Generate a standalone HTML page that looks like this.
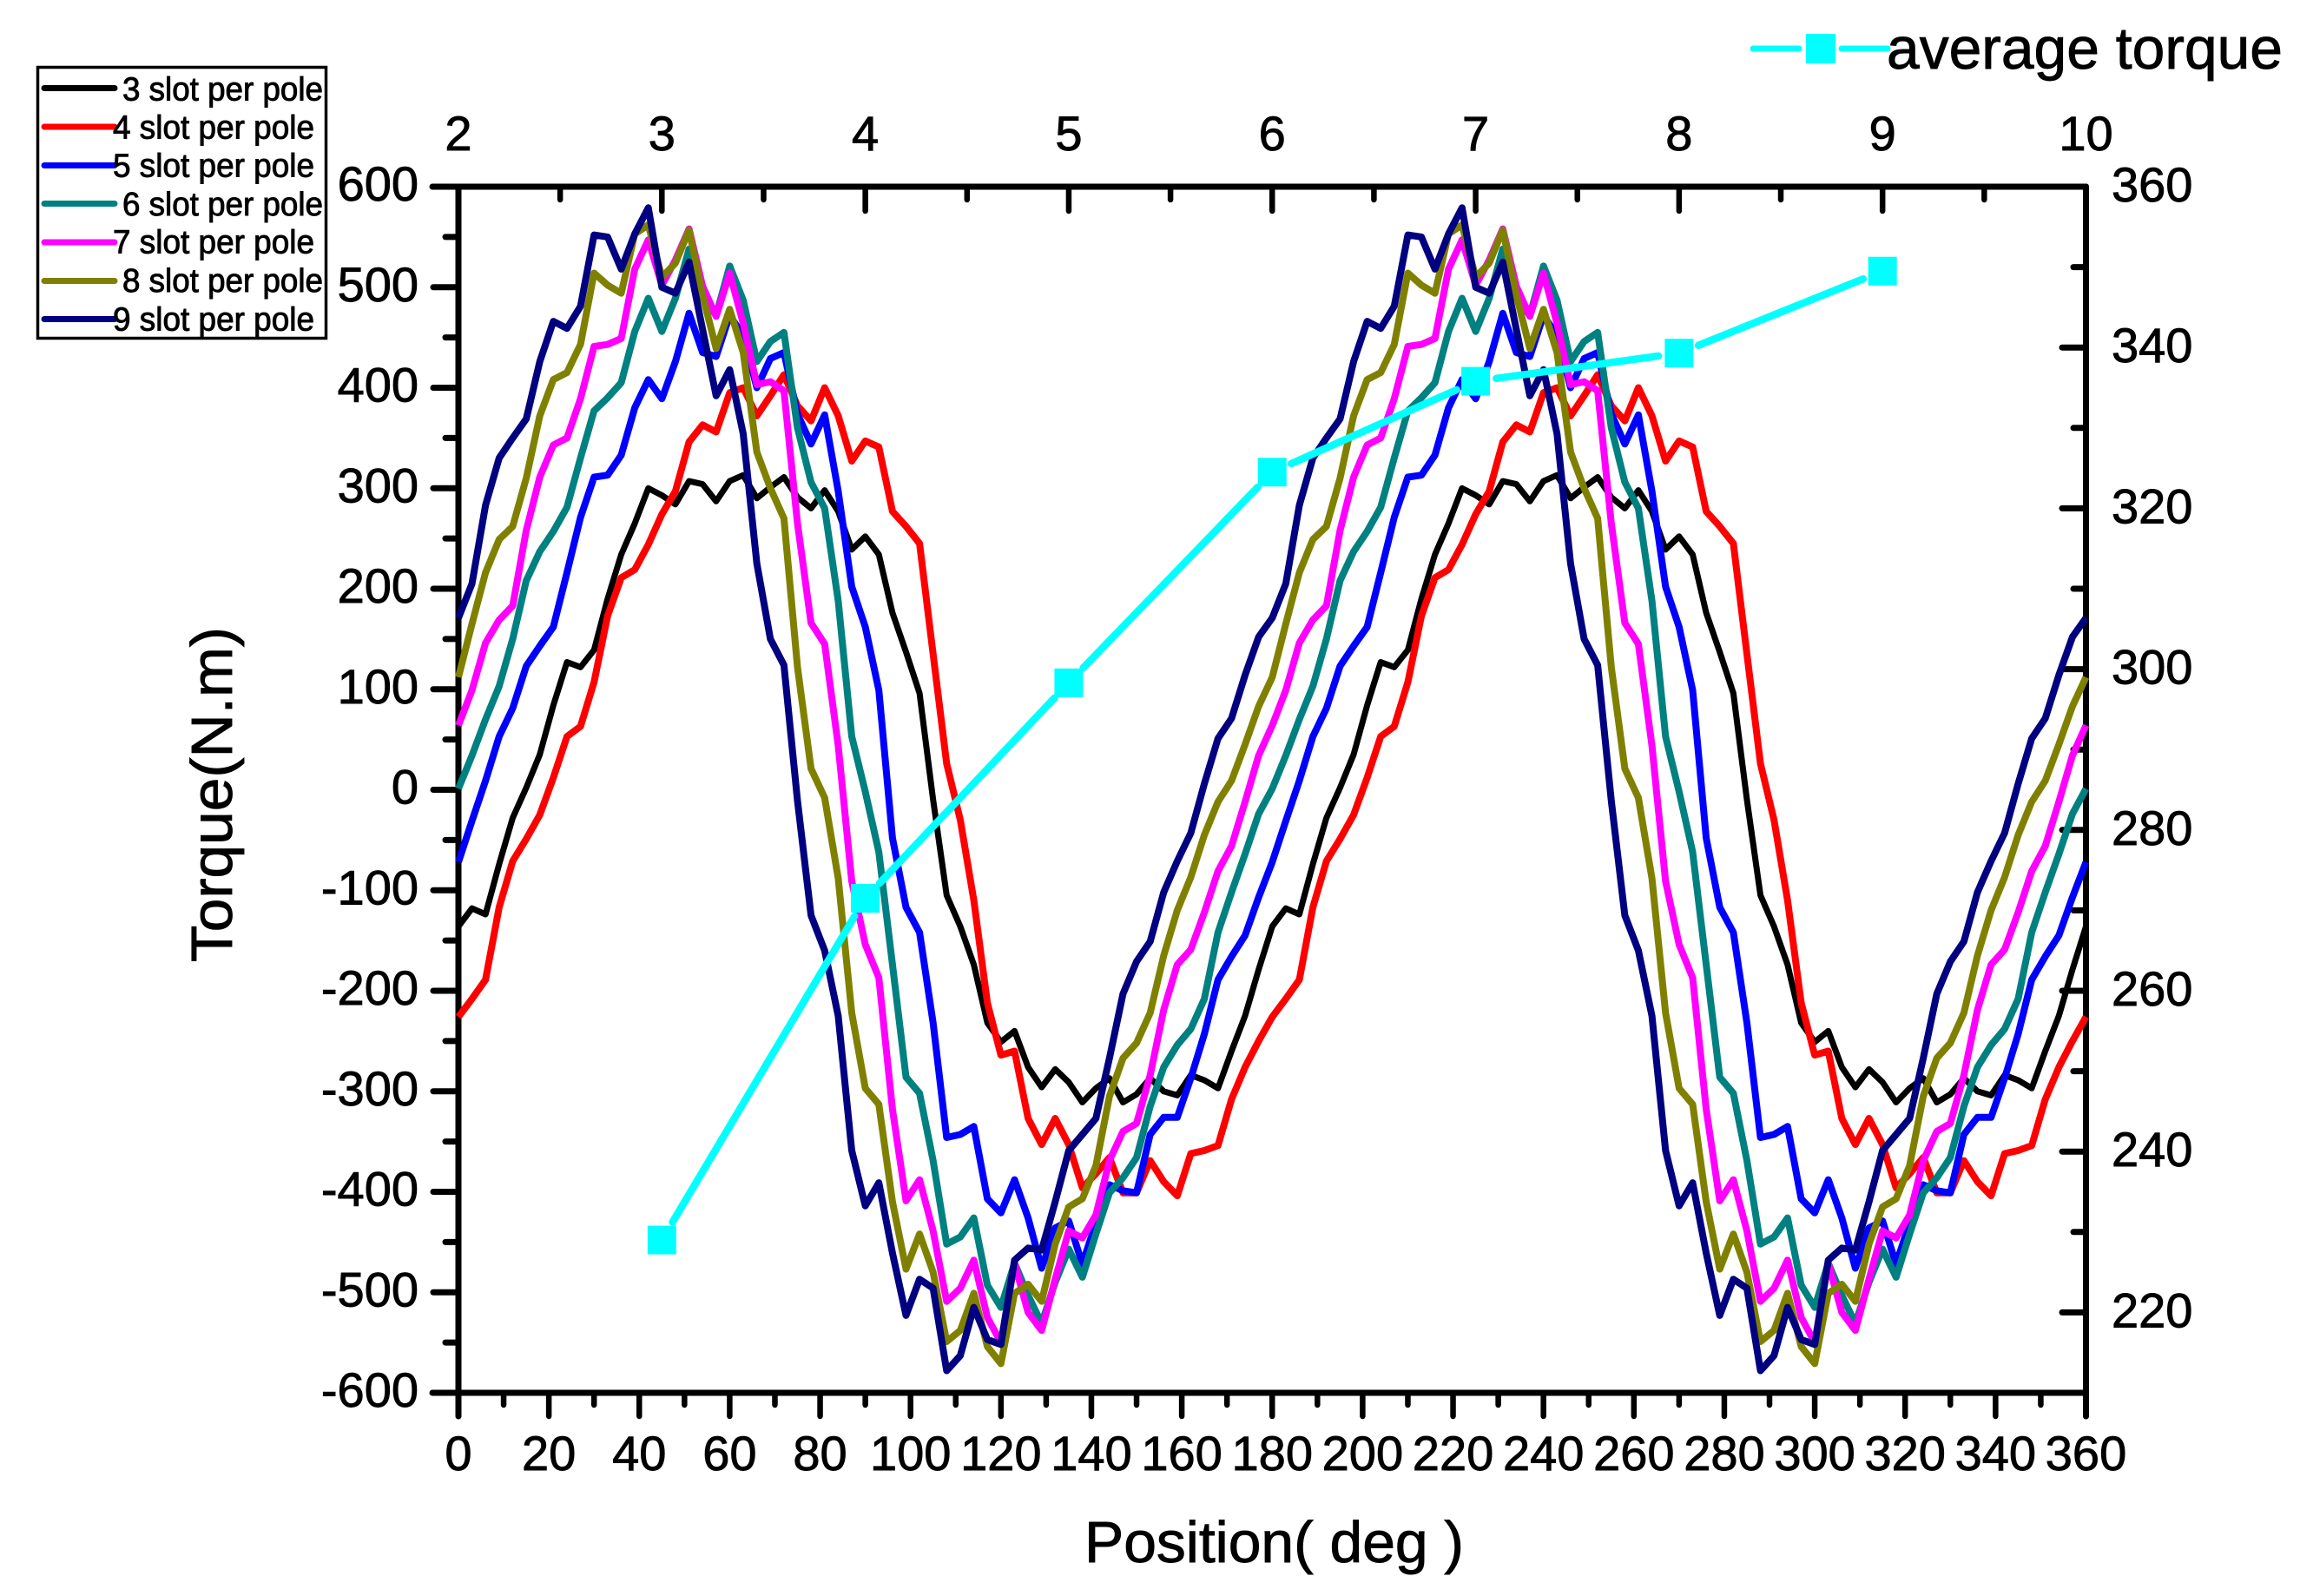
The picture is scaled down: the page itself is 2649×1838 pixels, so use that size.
<!DOCTYPE html>
<html lang="en">
<head>
<meta charset="utf-8">
<title>Torque vs Position</title>
<style>
html,body{margin:0;padding:0;background:#fff;}
svg{display:block;font-family:"Liberation Sans",Arial,sans-serif;}
svg text{stroke:#000;stroke-width:0.9px;}
</style>
</head>
<body>
<svg id="chart" xmlns="http://www.w3.org/2000/svg" width="2649" height="1838" viewBox="0 0 2649 1838">
<rect x="0" y="0" width="2649" height="1838" fill="#fff"/>
<g id="axes"></g>
<g id="series"></g>
<g id="avg"></g>

<g>
<rect x="43.5" y="77.5" width="332" height="312" fill="#fff" stroke="#000" stroke-width="3.5"/>
<line x1="51" x2="132" y1="101.5" y2="101.5" stroke="#000000" stroke-width="7" stroke-linecap="round"/>
<text x="141" y="115.5" font-size="38" textLength="231" lengthAdjust="spacingAndGlyphs">3 slot per pole</text>
<line x1="51" x2="132" y1="146" y2="146" stroke="#ff0000" stroke-width="7" stroke-linecap="round"/>
<text x="130" y="159.5" font-size="38" textLength="232" lengthAdjust="spacingAndGlyphs">4 slot per pole</text>
<line x1="51" x2="132" y1="190.5" y2="190.5" stroke="#0000ff" stroke-width="7" stroke-linecap="round"/>
<text x="130" y="203.5" font-size="38" textLength="232" lengthAdjust="spacingAndGlyphs">5 slot per pole</text>
<line x1="51" x2="132" y1="234.5" y2="234.5" stroke="#008080" stroke-width="7" stroke-linecap="round"/>
<text x="141" y="248" font-size="38" textLength="231" lengthAdjust="spacingAndGlyphs">6 slot per pole</text>
<line x1="51" x2="132" y1="279" y2="279" stroke="#ff00ff" stroke-width="7" stroke-linecap="round"/>
<text x="130" y="291.5" font-size="38" textLength="232" lengthAdjust="spacingAndGlyphs">7 slot per pole</text>
<line x1="51" x2="132" y1="323.5" y2="323.5" stroke="#808000" stroke-width="7" stroke-linecap="round"/>
<text x="141" y="336" font-size="38" textLength="231" lengthAdjust="spacingAndGlyphs">8 slot per pole</text>
<line x1="51" x2="132" y1="367.5" y2="367.5" stroke="#000080" stroke-width="7" stroke-linecap="round"/>
<text x="130" y="380.5" font-size="38" textLength="232" lengthAdjust="spacingAndGlyphs">9 slot per pole</text>
</g>

<g>
<line x1="2019" x2="2072" y1="56" y2="56" stroke="#00ffff" stroke-width="7" stroke-linecap="round"/>
<rect x="2080" y="39" width="34" height="34" fill="#00ffff"/>
<line x1="2121" x2="2174" y1="56" y2="56" stroke="#00ffff" stroke-width="7" stroke-linecap="round"/>
<text x="2173" y="79" font-size="68" textLength="456" lengthAdjust="spacingAndGlyphs">average torque</text>
</g>

<text transform="translate(267,1108) rotate(-90)" font-size="67" textLength="386" lengthAdjust="spacingAndGlyphs">Torque(N.m)</text>
<text x="1249" y="1799" font-size="67" textLength="437" lengthAdjust="spacingAndGlyphs">Position( deg )</text>
</svg>

<script>
const positions = [0,3,6,9,12,15,18,21,24,27,30,33,36,39,42,45,48,51,54,57,60,63,66,69,72,75,78,81,84,87,90,93,96,99,102,105,108,111,114,117,120,123,126,129,132,135,138,141,144,147,150,153,156,159,162,165,168,171,174,177,180,183,186,189,192,195,198,201,204,207,210,213,216,219,222,225,228,231,234,237,240,243,246,249,252,255,258,261,264,267,270,273,276,279,282,285,288,291,294,297,300,303,306,309,312,315,318,321,324,327,330,333,336,339,342,345,348,351,354,357,360];

const slot3 = [-136,-118,-124,-74,-28,2,35,84,127,122,139,190,234,265,300,293,284,307,304,287,307,313,290,301,311,291,280,298,277,239,252,234,176,137,96,-10,-105,-136,-174,-232,-251,-240,-276,-296,-278,-291,-311,-297,-287,-311,-303,-287,-300,-304,-284,-289,-297,-260,-225,-179,
-136,-118,-124,-74,-28,2,35,84,127,122,139,190,234,265,300,293,284,307,304,287,307,313,290,301,311,291,280,298,277,239,252,234,176,137,96,-10,-105,-136,-174,-232,-251,-240,-276,-296,-278,-291,-311,-297,-287,-311,-303,-287,-300,-304,-284,-289,-297,-260,-225,-179,-136];

const slot4 = [-226,-208,-189,-117,-71,-49,-25,12,53,63,107,173,211,219,244,274,297,346,363,356,395,400,372,392,413,382,367,400,372,327,347,341,277,262,245,135,26,-30,-110,-212,-264,-260,-327,-353,-327,-353,-396,-382,-366,-401,-401,-369,-390,-404,-362,-359,-354,-308,-276,-250,
-226,-208,-189,-117,-71,-49,-25,12,53,63,107,173,211,219,244,274,297,346,363,356,395,400,372,392,413,382,367,400,372,327,347,341,277,262,245,135,26,-30,-110,-212,-264,-260,-327,-353,-327,-353,-396,-382,-366,-401,-401,-369,-390,-404,-362,-359,-354,-308,-276,-250,-226];

const slot5 = [-72,-31,9,53,81,123,143,162,216,271,311,313,333,380,408,389,426,474,435,431,472,452,400,429,435,374,344,373,297,202,162,99,-48,-117,-142,-232,-346,-343,-335,-407,-421,-388,-426,-476,-436,-429,-472,-431,-393,-399,-401,-343,-326,-326,-287,-243,-189,-166,-145,-107,
-72,-31,9,53,81,123,143,162,216,271,311,313,333,380,408,389,426,474,435,431,472,452,400,429,435,374,344,373,297,202,162,99,-48,-117,-142,-232,-346,-343,-335,-407,-421,-388,-426,-476,-436,-429,-472,-431,-393,-399,-401,-343,-326,-326,-287,-243,-189,-166,-145,-107,-72];

const slot6 = [1,34,70,103,150,208,237,257,281,330,377,390,405,456,489,456,489,538,489,472,521,487,426,446,455,360,306,280,188,53,-2,-62,-174,-286,-302,-369,-452,-445,-426,-493,-515,-471,-503,-531,-490,-457,-485,-442,-401,-386,-366,-315,-276,-254,-238,-208,-142,-102,-64,-24,
1,34,70,103,150,208,237,257,281,330,377,390,405,456,489,456,489,538,489,472,521,487,426,446,455,360,306,280,188,53,-2,-62,-174,-286,-302,-369,-452,-445,-426,-493,-515,-471,-503,-531,-490,-457,-485,-442,-401,-386,-366,-315,-276,-254,-238,-208,-142,-102,-64,-24,1];

const slot7 = [64,99,146,169,183,258,311,343,350,389,441,443,449,518,547,502,527,558,501,471,514,464,403,406,397,265,166,145,44,-91,-154,-187,-318,-409,-388,-439,-509,-496,-468,-525,-550,-471,-520,-538,-487,-439,-446,-423,-369,-340,-332,-284,-219,-174,-159,-122,-81,-56,-12,34,
64,99,146,169,183,258,311,343,350,389,441,443,449,518,547,502,527,558,501,471,514,464,403,406,397,265,166,145,44,-91,-154,-187,-318,-409,-388,-439,-509,-496,-468,-525,-550,-471,-520,-538,-487,-439,-446,-423,-369,-340,-332,-284,-219,-174,-159,-122,-81,-56,-12,34,64];

const slot8 = [112,165,216,249,262,310,372,408,415,443,514,502,494,553,562,510,524,557,492,439,478,435,336,300,270,122,21,-8,-88,-222,-297,-313,-410,-477,-442,-480,-549,-538,-501,-554,-571,-501,-492,-509,-452,-415,-407,-374,-305,-267,-252,-222,-165,-120,-87,-45,-12,9,45,83,
112,165,216,249,262,310,372,408,415,443,514,502,494,553,562,510,524,557,492,439,478,435,336,300,270,122,21,-8,-88,-222,-297,-313,-410,-477,-442,-480,-549,-538,-501,-554,-571,-501,-492,-509,-452,-415,-407,-374,-305,-267,-252,-222,-165,-120,-87,-45,-12,9,45,83,112];

const slot9 = [171,205,283,330,350,369,426,466,459,481,552,550,518,553,579,500,494,525,458,392,418,354,225,150,124,-11,-125,-160,-225,-359,-414,-391,-461,-523,-487,-496,-578,-563,-515,-547,-552,-468,-456,-458,-410,-359,-343,-327,-267,-203,-171,-151,-102,-71,-43,6,51,71,114,152,
171,205,283,330,350,369,426,466,459,481,552,550,518,553,579,500,494,525,458,392,418,354,225,150,124,-11,-125,-160,-225,-359,-414,-391,-461,-523,-487,-496,-578,-563,-515,-547,-552,-468,-456,-458,-410,-359,-343,-327,-267,-203,-171,-151,-102,-71,-43,6,51,71,114,152,171];

const slotCounts = [2,3,4,5,6,7,8,9,10];
const averageSlots = [3,4,5,6,7,8,9];
const averageTorque = [229,271.5,298.3,324.5,335.8,339.3,349.5];

const xTickLabels = [0,20,40,60,80,100,120,140,160,180,200,220,240,260,280,300,320,340,360];
const xMinorTicks = [10,30,50,70,90,110,130,150,170,190,210,230,250,270,290,310,330,350];
const yTickLabels = [600,500,400,300,200,100,0,-100,-200,-300,-400,-500,-600];
const yMinorTicks = [550,450,350,250,150,50,-50,-150,-250,-350,-450,-550];
const rightTickLabels = [360,340,320,300,280,260,240,220];
const rightMinorTicks = [350,330,310,290,270,250,230];
const topMinorTicks = [2.5,3.5,4.5,5.5,6.5,7.5,8.5,9.5];

const plotLeft = 528, plotRight = 2402.5, plotTop = 215, plotBottom = 1604;
const NS = 'http://www.w3.org/2000/svg';
const xScale = v => plotLeft + (v - 0) / 360 * (plotRight - plotLeft);
const yScale = v => plotTop + (600 - v) / 1200 * (plotBottom - plotTop);
const topScale = v => plotLeft + (v - 2) / 8 * (plotRight - plotLeft);
const rightScale = v => plotTop + (360 - v) / 150 * (plotBottom - plotTop);

const axes = document.getElementById('axes');
const seriesGroup = document.getElementById('series');
const avgGroup = document.getElementById('avg');

function makeLine(parent, x1, y1, x2, y2, width, cap, color) {
  const el = document.createElementNS(NS, 'line');
  el.setAttribute('x1', x1);
  el.setAttribute('y1', y1);
  el.setAttribute('x2', x2);
  el.setAttribute('y2', y2);
  el.setAttribute('stroke', color || '#000');
  el.setAttribute('stroke-width', width);
  el.setAttribute('stroke-linecap', cap);
  parent.appendChild(el);
  return el;
}
function makeText(parent, x, y, anchor, content) {
  const el = document.createElementNS(NS, 'text');
  el.setAttribute('x', x);
  el.setAttribute('y', y);
  el.setAttribute('text-anchor', anchor);
  el.setAttribute('font-size', '56');
  el.textContent = content;
  parent.appendChild(el);
  return el;
}

/* bottom axis */
const bottomLine = makeLine(axes, plotLeft - 30, plotBottom, plotRight, plotBottom, 7, 'round');


xTickLabels.forEach(v => {
  const t = makeLine(axes, xScale(v), plotBottom, xScale(v), 1631, 6.5, 'round');
  
  
  const l = makeText(axes, xScale(v), 1693, 'middle', String(v));
  
  
});
xMinorTicks.forEach(v => {
  const t = makeLine(axes, xScale(v), plotBottom, xScale(v), 1618, 6.5, 'round');
  
  
});

/* left axis */
const leftLine = makeLine(axes, plotLeft, plotTop, plotLeft, 1631, 7, 'round');


yTickLabels.forEach(v => {
  const t = makeLine(axes, 499, yScale(v), plotLeft, yScale(v), 7, 'round');
  
  
  const l = makeText(axes, 482, yScale(v) + 16, 'end', String(v));
  
  
});
yMinorTicks.forEach(v => {
  const t = makeLine(axes, 513, yScale(v), plotLeft, yScale(v), 7, 'round');
  
  
});

/* top axis */
const topLine = makeLine(axes, plotLeft - 30, plotTop, plotRight, plotTop, 7, 'round');


slotCounts.forEach(v => {
  const t = makeLine(axes, topScale(v), plotTop, topScale(v), 243, 6.5, 'round');
  
  
  const l = makeText(axes, topScale(v), 173, 'middle', String(v));
  
  
});
topMinorTicks.forEach(v => {
  const t = makeLine(axes, topScale(v), plotTop, topScale(v), 230, 6.5, 'round');
  
  
});

/* right axis */
const rightLine = makeLine(axes, plotRight, plotTop, plotRight, 1631, 7, 'round');


rightTickLabels.forEach(v => {
  const t = makeLine(axes, 2375, rightScale(v), plotRight, rightScale(v), 7, 'round');
  
  
  const l = makeText(axes, 2432, rightScale(v) + 17, 'start', String(v));
  
  
});
rightMinorTicks.forEach(v => {
  const t = makeLine(axes, 2388, rightScale(v), plotRight, rightScale(v), 7, 'round');
  
  
});

/* torque curves */
function drawSeries(values, color, width) {
  const el = document.createElementNS(NS, 'polyline');
  el.setAttribute('points', values.map((v, i) => xScale(positions[i]).toFixed(1) + ',' + yScale(v).toFixed(1)).join(' '));
  el.setAttribute('fill', 'none');
  el.setAttribute('stroke', color);
  el.setAttribute('stroke-width', width);
  el.setAttribute('stroke-linejoin', 'round');
  seriesGroup.appendChild(el);
  return el;
}
const line3 = drawSeries(slot3, '#000000', 7);


const line4 = drawSeries(slot4, '#ff0000', 8);


const line5 = drawSeries(slot5, '#0000ff', 8);


const line6 = drawSeries(slot6, '#008080', 8);


const line7 = drawSeries(slot7, '#ff00ff', 8);


const line8 = drawSeries(slot8, '#808000', 8);


const line9 = drawSeries(slot9, '#000080', 8);



/* average torque on the top / right axes, with small gaps around the markers */
const markerGap = 24;
averageSlots.forEach((slot, i) => {
  const cx = topScale(slot);
  const cy = rightScale(averageTorque[i]);
  if (i + 1 < averageSlots.length) {
    const nx = topScale(averageSlots[i + 1]);
    const ny = rightScale(averageTorque[i + 1]);
    const len = Math.hypot(nx - cx, ny - cy);
    const ux = (nx - cx) / len;
    const uy = (ny - cy) / len;
    const seg = makeLine(avgGroup, cx + ux * markerGap, cy + uy * markerGap, nx - ux * markerGap, ny - uy * markerGap, 8.5, 'round', '#00ffff');
    
    
  }
  const m = document.createElementNS(NS, 'rect');
  m.setAttribute('x', cx - 16.5);
  m.setAttribute('y', cy - 16.5);
  m.setAttribute('width', 33);
  m.setAttribute('height', 33);
  m.setAttribute('fill', '#00ffff');
  
  
  avgGroup.appendChild(m);
});
</script>
</body>
</html>
